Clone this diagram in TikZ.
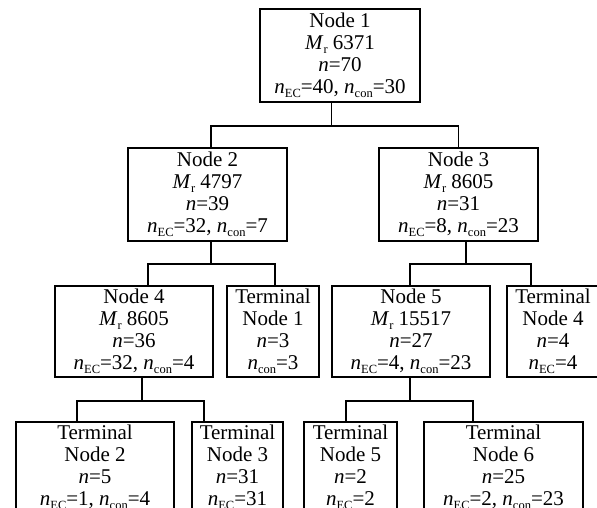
\documentclass[tikz,border=0pt]{standalone}
\usepackage{fontspec}
\setmainfont{Liberation Serif}
\newcommand\mysub[1]{\raisebox{-4pt}{\fontsize{12.5}{12.5}\selectfont #1}}
\newcommand\myn{\textit{n}}
\newcommand\myEC{\textit{n}\mysub{EC}}
\newcommand\mycon{\textit{n}\mysub{con}}
\newcommand\myMr{\textit{M}\mysub{r}}
\tikzset{
  box/.style={draw, line width=1.8pt, align=center, inner sep=0pt,
    font=\fontsize{21}{22}\selectfont, minimum height=#1},
  box/.default=93pt,
  wire/.style={line width=1.8pt},
}
\begin{document}
\begin{tikzpicture}[x=1pt,y=-1pt]
\useasboundingbox (0,0) rectangle (597,508);
\clip (0,0) rectangle (597,508);
% level 1
\node[box, minimum width=160pt] (N1) at (340,55.5) {Node 1\\\myMr{} 6371\\\myn=70\\\myEC=40, \mycon=30};
% level 2
\node[box, minimum width=159pt] (N2) at (207.5,194.5) {Node 2\\\myMr{} 4797\\\myn=39\\\myEC=32, \mycon=7};
\node[box, minimum width=159pt] (N3) at (458.5,194.5) {Node 3\\\myMr{} 8605\\\myn=31\\\myEC=8, \mycon=23};
% level 3
\node[box=91pt, minimum width=158pt] (N4) at (134,331.5) {Node 4\\\myMr{} 8605\\\myn=36\\\myEC=32, \mycon=4};
\node[box=91pt, minimum width=92pt] (T1) at (273,331.5) {Terminal\\Node 1\\\myn=3\\\mycon=3};
\node[box=91pt, minimum width=158pt] (N5) at (411,331.5) {Node 5\\\myMr{} 15517\\\myn=27\\\myEC=4, \mycon=23};
\node[box=91pt, minimum width=92pt] (T4) at (553,331.5) {Terminal\\Node 4\\\myn=4\\\myEC=4};
% level 4
\node[box=91pt, minimum width=158pt] (T2) at (95,467.5) {Terminal\\Node 2\\\myn=5\\\myEC=1, \mycon=4};
\node[box=91pt, minimum width=91pt] (T3) at (237.5,467.5) {Terminal\\Node 3\\\myn=31\\\myEC=31};
\node[box=91pt, minimum width=93pt] (T5) at (350.5,467.5) {Terminal\\Node 5\\\myn=2\\\myEC=2};
\node[box=91pt, minimum width=159pt] (T6) at (503.5,467.5) {Terminal\\Node 6\\\myn=25\\\myEC=2, \mycon=23};
% connectors
\draw[wire] ([xshift=-8.5pt]N1.south) -- ++(0,23) coordinate (b1);
\draw[wire] ([xshift=3.5pt]N2.north) |- (b1) -| (N3.north);
\draw[wire] ([xshift=3.5pt]N2.south) -- ++(0,22) coordinate (b2);
\draw[wire] ([xshift=14pt]N4.north) |- (b2) -| ([xshift=2pt]T1.north);
\draw[wire] ([xshift=7.5pt]N3.south) -- ++(0,22) coordinate (b3);
\draw[wire] ([xshift=-1pt]N5.north) |- (b3) -| ([xshift=-22pt]T4.north);
\draw[wire] ([xshift=8pt]N4.south) -- ++(0,23) coordinate (b4);
\draw[wire] ([xshift=-18pt]T2.north) |- (b4) -| ([xshift=-33.5pt]T3.north);
\draw[wire] ([xshift=-1pt]N5.south) -- ++(0,23) coordinate (b5);
\draw[wire] ([xshift=-4.5pt]T5.north) |- (b5) -| ([xshift=-30.5pt]T6.north);
\end{tikzpicture}
\end{document}
